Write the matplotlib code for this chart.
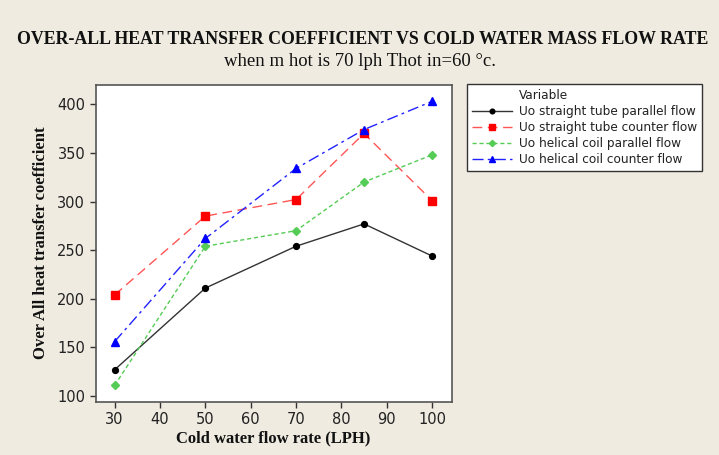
import matplotlib
matplotlib.use("Agg")
import matplotlib.pyplot as plt
from matplotlib.lines import Line2D

flow = [30, 50, 70, 85, 100]
straight_parallel = [127, 211, 254, 277, 244]
straight_counter = [204, 285, 302, 370, 301]
helical_parallel = [111, 254, 270, 320, 348]
helical_counter = [156, 262, 334, 374, 403]
labels = ["Uo straight tube parallel flow", "Uo straight tube counter flow",
          "Uo helical coil parallel flow", "Uo helical coil counter flow"]
xticks = [30, 40, 50, 60, 70, 80, 90, 100]
yticks = [100, 150, 200, 250, 300, 350, 400]

bg = "#efebe1"
fig = plt.figure(figsize=(7.19, 4.55), dpi=100, facecolor=bg)
ax = fig.add_axes([0.133, 0.117, 0.495, 0.697])
ax.set_facecolor("white")

l1, = ax.plot(flow, straight_parallel, color="#333333", lw=1.0, ls="-", marker="o", ms=4.2,
              mfc="black", mec="black", label=labels[0])
l2, = ax.plot(flow, straight_counter, color="#ff5555", lw=1.0, ls=(0, (7, 4)), marker="s", ms=5.5,
              mfc="red", mec="red", label=labels[1])
l3, = ax.plot(flow, helical_parallel, color="#55cc55", lw=1.0, ls=(0, (3, 2)), marker="D", ms=4.0,
              mfc="#55cc55", mec="#55cc55", label=labels[2])
l4, = ax.plot(flow, helical_counter, color="#2222ff", lw=1.0, ls=(0, (8, 3, 2, 3)), marker="^", ms=6,
              mfc="blue", mec="blue", label=labels[3])

ax.set_xlim(25.8, 104.3)
ax.set_ylim(94.1, 420.2)
ax.set_xticks(xticks)
ax.set_yticks(yticks)
ax.tick_params(direction="out", length=4, width=1, colors="#333333", labelsize=10.5, labelcolor="#222222")
for s in ax.spines.values():
    s.set_color("#555555")
    s.set_linewidth(1.2)

ax.set_xlabel("Cold water flow rate (LPH)", family="Liberation Serif", fontweight="bold",
              fontsize=12, color="#111111", labelpad=2)
ax.set_ylabel("Over All heat transfer coefficient", family="Liberation Serif", fontweight="bold",
              fontsize=12, color="#111111", labelpad=6)

fig.text(363 / 719, 1 - 40 / 455, "OVER-ALL HEAT TRANSFER COEFFICIENT VS COLD WATER MASS FLOW RATE",
         ha="center", va="center", family="Liberation Serif", fontweight="bold", fontsize=12.9, color="#111111")
fig.text(0.5, 1 - 61 / 455, "when m hot is 70 lph Thot in=60 \u00b0c.",
         ha="center", va="center", family="Liberation Serif", fontsize=13.5, color="#111111")

blank = Line2D([], [], color="none", label="Variable")
leg = fig.legend(handles=[blank, l1, l2, l3, l4], loc="upper left",
                 bbox_to_anchor=(467 / 719, 1 - 84 / 455), frameon=True, fancybox=False,
                 fontsize=8.7, handlelength=3.3, handletextpad=0.6, labelspacing=0.25,
                 borderpad=0.4, borderaxespad=0, markerscale=0.8)
leg.get_frame().set_edgecolor("#333333")
leg.get_frame().set_facecolor("white")
leg.get_frame().set_alpha(1)
leg.get_frame().set_linewidth(1.0)
for t in leg.get_texts():
    t.set_color("#222222")

fig.savefig("out.png", dpi=100, facecolor=bg)
